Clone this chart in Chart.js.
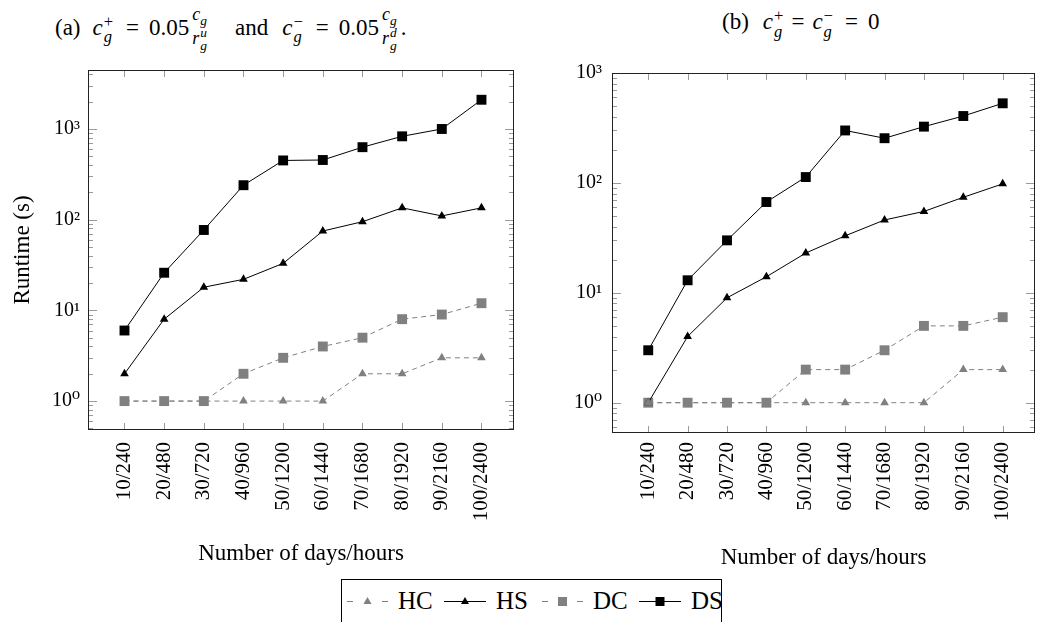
<!DOCTYPE html>
<html>
<head>
<meta charset="utf-8">
<script src="https://cdn.jsdelivr.net/npm/chart.js@4"></script>
<style>
html, body { margin: 0; padding: 0; background: #fff; overflow: hidden; width: 1038px; height: 622px; }
body { position: relative; font-family: "Liberation Serif", "DejaVu Serif", serif; color: #000; }
canvas { position: absolute; top: 0; }
.title { position: absolute; top: 6px; font-size: 23px; white-space: nowrap; line-height: 32px; }
.ss { display: inline-flex; flex-direction: column; vertical-align: middle; font-size: 0.72em; line-height: 0.95; margin-left: 1px; }
.frac { display: inline-flex; flex-direction: column; vertical-align: middle; font-size: 0.78em; line-height: 1.0; text-align: center; margin: 0 0 0 3px; }
.frac .ss { font-size: 0.75em; }
.frac sub { font-size: 0.75em; }
.eq { margin: 0 10px 0 13px; }
#legend { position: absolute; left: 341px; top: 579px; width: 381px; height: 60px; border: 1px solid #000; box-sizing: border-box;
  display: flex; align-items: flex-start; padding: 9px 0 0 5px; font-size: 25px; line-height: 24px; }
#legend .item { display: inline-flex; align-items: center; }
#legend svg { margin-right: 10px; }
#legend .lab { display: inline-block; width: 38px; margin-right: 8px; }
</style>
</head>
<body>

<div class="title" style="left:55px">(a)<span style="margin-left:12px"><i>c</i></span><span class="ss"><span>+</span><i>g</i></span><span class="eq">=</span>0.05<span class="frac"><span><i>c<sub>g</sub></i></span><span><i>r</i><span class="ss"><i>u</i><i>g</i></span></span></span><span style="margin:0 14px 0 28px">and</span><i>c</i><span class="ss"><span>−</span><i>g</i></span><span class="eq">=</span>0.05<span class="frac"><span><i>c<sub>g</sub></i></span><span><i>r</i><span class="ss"><i>d</i><i>g</i></span></span></span><span style="margin-left:4px">.</span></div>
<div class="title" style="left:722px">(b)<span style="margin-left:14px"><i>c</i></span><span class="ss"><span>+</span><i>g</i></span><span style="margin:0 8px 0 8px">=</span><i>c</i><span class="ss"><span>−</span><i>g</i></span><span style="margin:0 10px 0 12px">=</span>0</div>

<canvas id="chartA" width="521" height="572" style="left:0px"></canvas>
<canvas id="chartB" width="520" height="576" style="left:522px"></canvas>
<div id="legend"></div>

<script>
// categories and values (runtime in seconds)
const categories = ['10/240', '20/480', '30/720', '40/960', '50/1200', '60/1440', '70/1680', '80/1920', '90/2160', '100/2400']

// (a) with cost terms
const hcA = [1, 1, 1, 1, 1, 1, 2, 2, 3, 3]
const hsA = [2, 8, 18, 22, 33, 75, 95, 135, 110, 135]
const dcA = [1, 1, 1, 2, 3, 4, 5, 8, 9, 12]
const dsA = [6, 26, 77, 240, 450, 455, 630, 830, 1000, 2100]

// (b) zero cost terms
const hcB = [1, 1, 1, 1, 1, 1, 1, 1, 2, 2]
const hsB = [1, 4, 9, 14, 23, 33, 46, 55, 74, 98]
const dcB = [1, 1, 1, 1, 2, 2, 3, 5, 5, 6]
const dsB = [3, 13, 30, 67, 113, 300, 255, 325, 406, 530]

const seriesNames = ['HC', 'HS', 'DC', 'DS']
const yTickValues = [1, 10, 100, 1000]
const yTickLabels = ['10⁰', '10¹', '10²', '10³']

const gray = '#808080'
const styles = {
    HC: { color: gray, dash: [5, 4], point: 'triangle', radius: 5 },
    HS: { color: '#000', dash: [], point: 'triangle', radius: 5 },
    DC: { color: gray, dash: [5, 4], point: 'rect', radius: 7 },
    DS: { color: '#000', dash: [], point: 'rect', radius: 7 }
}

const serifFont = '"Liberation Serif", "DejaVu Serif", serif'

function makeDatasets(values) {
    return seriesNames.map((name, k) => {
        const s = styles[name]
        return {
            label: name,
            data: values[k].map((v, i) => ({ x: i, y: v })),
            borderColor: s.color,
            backgroundColor: s.color,
            borderWidth: 1,
            borderDash: s.dash,
            pointStyle: s.point,
            pointRadius: s.radius,
            pointBorderWidth: 0,
            pointBackgroundColor: s.color
        }
    })
}

// box + inward tick marks like pgfplots
const frame = {
    id: 'frame',
    afterDraw(chart) {
        const { ctx, chartArea: a, scales: { x, y } } = chart
        ctx.save()
        ctx.lineWidth = 1
        ctx.strokeStyle = '#9a9a9a'
        ctx.beginPath()
        categories.forEach((c, i) => {
            const px = Math.round(x.getPixelForValue(i)) + 0.5
            ctx.moveTo(px, a.bottom); ctx.lineTo(px, a.bottom - 7)
            ctx.moveTo(px, a.top); ctx.lineTo(px, a.top + 7)
        })
        for (let e = -1; e <= 4; e++) {
            for (let m = 1; m < 10; m++) {
                const v = m * Math.pow(10, e)
                if (v < y.min || v > y.max) continue
                const py = Math.round(y.getPixelForValue(v)) + 0.5
                const len = m === 1 ? 9 : 5
                ctx.moveTo(a.left, py); ctx.lineTo(a.left + len, py)
                ctx.moveTo(a.right, py); ctx.lineTo(a.right - len, py)
            }
        }
        ctx.stroke()
        ctx.strokeStyle = '#222'
        ctx.strokeRect(a.left + 0.5, a.top + 0.5, a.right - a.left - 1, a.bottom - a.top - 1)
        ctx.restore()
    }
}

function makeChart(id, values, opts) {
    const options = {
        responsive: false,
        animation: false,
        layout: { padding: { top: opts.top, right: opts.right, left: 0, bottom: 0 } },
        plugins: { legend: { display: false }, tooltip: { enabled: false } },
        scales: {
            x: {
                type: 'linear',
                min: -0.92,
                max: 9.82,
                grid: { display: false, drawTicks: false },
                border: { display: false },
                afterBuildTicks: s => { s.ticks = categories.map((c, i) => ({ value: i })) },
                afterFit: s => { s.height = opts.xHeight },
                ticks: {
                    autoSkip: false,
                    minRotation: 90,
                    maxRotation: 90,
                    padding: opts.xPad,
                    color: '#000',
                    font: { family: serifFont, size: 21 },
                    callback: v => categories[v]
                },
                title: {
                    display: true,
                    text: 'Number of days/hours',
                    color: '#000',
                    padding: { top: 4, bottom: 4 },
                    font: { family: serifFont, size: 23 }
                }
            },
            y: {
                type: 'logarithmic',
                min: opts.yMin,
                max: opts.yMax,
                grid: { display: false, drawTicks: false },
                border: { display: false },
                afterBuildTicks: s => { s.ticks = yTickValues.filter(v => v >= s.min && v <= s.max).map(v => ({ value: v })) },
                afterFit: s => { s.width = opts.yWidth },
                ticks: {
                    autoSkip: false,
                    padding: opts.yPad,
                    color: '#000',
                    font: { family: serifFont, size: 20 },
                    callback: v => yTickLabels[yTickValues.indexOf(v)] || ''
                },
                title: {
                    display: !!opts.yTitle,
                    text: opts.yTitle || '',
                    color: '#000',
                    padding: { top: 9, bottom: 0 },
                    font: { family: serifFont, size: 23 }
                }
            }
        }
    }
    return new Chart(id, { type: 'line', data: { datasets: makeDatasets(values) }, options, plugins: [frame] })
}

makeChart('chartA', [hcA, hsA, dcA, dsA], {
    top: 70, right: 1, xHeight: 142, yWidth: 88, yMin: 0.48, yMax: 4470, xPad: 12, yPad: 8, yTitle: 'Runtime (s)'
})
makeChart('chartB', [hcB, hsB, dcB, dsB], {
    top: 73, right: 0, xHeight: 143, yWidth: 90, yMin: 0.53, yMax: 1000, xPad: 9, yPad: 10
})

// legend built from the same series styles
const legend = document.getElementById('legend')
seriesNames.forEach(name => {
    const s = styles[name]
    const w = s.dash.length ? 41 : 42
    const mid = w / 2
    const line = s.dash.length
        ? `<line x1="0" y1="10.5" x2="6" y2="10.5" stroke="${s.color}"/><line x1="${w - 6}" y1="10.5" x2="${w}" y2="10.5" stroke="${s.color}"/>`
        : `<line x1="0" y1="10.5" x2="${w}" y2="10.5" stroke="${s.color}"/>`
    const marker = s.point === 'rect'
        ? `<rect x="${mid - 4.5}" y="6" width="9" height="9" fill="${s.color}"/>`
        : `<polygon points="${mid},6 ${mid + 4},13 ${mid - 4},13" fill="${s.color}"/>`
    const item = document.createElement('span')
    item.className = 'item'
    item.innerHTML = `<svg width="${w}" height="20">${line}${marker}</svg><span class="lab">${name}</span>`
    legend.appendChild(item)
})
</script>
</body>
</html>
